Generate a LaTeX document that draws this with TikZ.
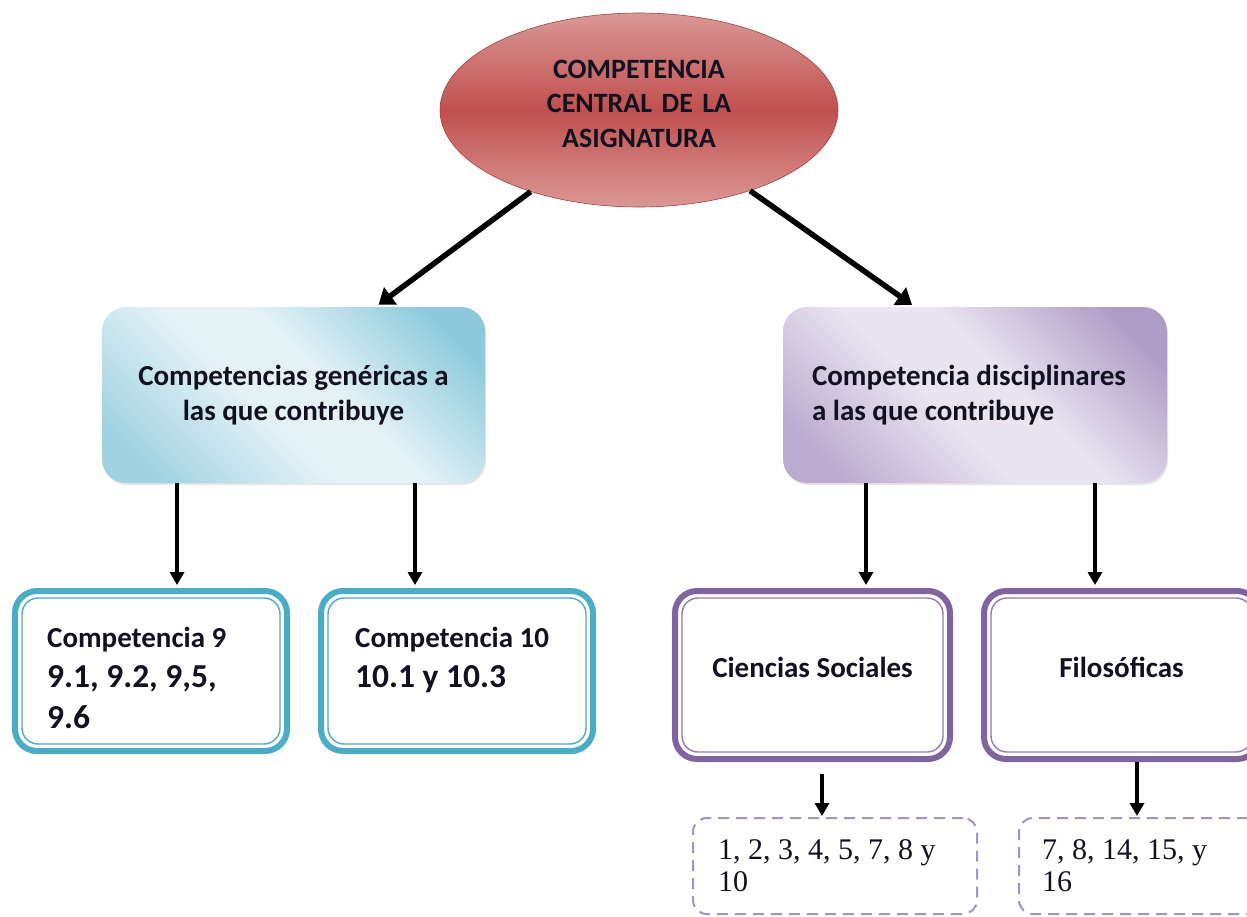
\documentclass[tikz,border=0pt]{standalone}
\usepackage{fontspec}
\setmainfont{Carlito}
\newfontfamily\timesf{Liberation Serif}
\usetikzlibrary{shapes.geometric,arrows.meta,shadows}
\definecolor{tealb}{HTML}{4BACC6}
\definecolor{purb}{HTML}{8064A2}
\definecolor{dashp}{HTML}{A493C4}
\definecolor{redm}{HTML}{C0504D}
\definecolor{redl}{HTML}{DA9896}
\definecolor{bluedk}{HTML}{8CCADB}
\definecolor{bluemd}{HTML}{9FD3E1}
\definecolor{bluelt}{HTML}{E4F2F6}
\definecolor{purdk}{HTML}{AF9DC6}
\definecolor{purmd}{HTML}{BBABD0}
\definecolor{purlt}{HTML}{E9E4F0}
\definecolor{inkc}{HTML}{111122}
\pgfdeclareverticalshading{bluesh}{100bp}{color(0bp)=(bluemd); color(22bp)=(bluemd); color(44bp)=(bluelt); color(56bp)=(bluelt); color(78bp)=(bluedk); color(100bp)=(bluedk)}
\pgfdeclareverticalshading{pursh}{100bp}{color(0bp)=(purmd); color(22bp)=(purmd); color(44bp)=(purlt); color(56bp)=(purlt); color(78bp)=(purdk); color(100bp)=(purdk)}
\begin{document}
\begin{tikzpicture}[x=1pt,y=-1pt,
  arrbig/.style={line width=5.5pt,-{Triangle[width=21pt,length=15pt]}},
  arrsm/.style={line width=3.5pt,-{Triangle[width=14pt,length=13pt]}},
  corebox/.style={ellipse, minimum width=398pt, minimum height=194pt, inner sep=0pt,
    top color=redl, bottom color=redl, middle color=redm, draw=redm!85!black, line width=0.6pt},
  genbox/.style={rectangle, rounded corners=24pt, minimum width=383pt, minimum height=176pt,
    shading=bluesh, shading angle=-45,
    drop shadow={shadow xshift=1pt, shadow yshift=-2pt, opacity=0.2}},
  disbox/.style={rectangle, rounded corners=24pt, minimum width=384pt, minimum height=176pt,
    shading=pursh, shading angle=-45,
    drop shadow={shadow xshift=1pt, shadow yshift=-2pt, opacity=0.2}},
  tealbox/.style={rectangle, rounded corners=22pt, line width=6pt, draw=tealb, fill=white,
    minimum width=272pt, minimum height=160pt},
  purbox/.style={rectangle, rounded corners=22pt, line width=6pt, draw=purb, fill=white,
    minimum width=275pt, minimum height=168pt},
  tealin/.style={draw=tealb, line width=1.4pt, rounded corners=16pt},
  purin/.style={draw=purb!85, line width=1.4pt, rounded corners=16pt},
  dashbox/.style={rectangle, rounded corners=14pt, draw=dashp, line width=2pt,
    dash pattern=on 11pt off 7pt, align=flush left},
  txt/.style={text=inkc, inner sep=0pt},
  bigtxt/.style={txt, font=\fontsize{29}{35}\selectfont\bfseries},
  numtxt/.style={txt, font=\timesf\fontsize{30}{32}\selectfont}
]
\useasboundingbox (0,0) rectangle (1247,916);
\clip (0,0) rectangle (1247,916);

% top ellipse
\node[corebox] (core) at (639,110) {};
\node[bigtxt, font=\fontsize{28}{34.5}\selectfont\bfseries, anchor=base, text width=300pt, align=center]
  (coret) at (639,78) {COMPETENCIA\\CENTRAL DE LA\\ASIGNATURA};

% second level
\node[genbox, bigtxt, align=center] (gen) at (293.5,395) {Competencias genéricas a\\las que contribuye};
\node[disbox, bigtxt, align=flush left, text width=326pt, inner xsep=29pt] (dis) at (975,395)
  {Competencia disciplinares\\a las que contribuye};

% third level (teal)
\node[tealbox] (c9) at (151,671) {};
\draw[tealin] ([shift={(10,-10)}]c9.south west) rectangle ([shift={(-10,10)}]c9.north east);
\node[txt, anchor=base west, text width=230pt, align=flush left, font=\fontsize{33.5}{40.5}\selectfont\bfseries]
  (c9t) at (47,647) {{\fontsize{29}{40.5}\selectfont Competencia 9}\\9.1, 9.2, 9,5,\\9.6};

\node[tealbox] (c10) at (457,671) {};
\draw[tealin] ([shift={(10,-10)}]c10.south west) rectangle ([shift={(-10,10)}]c10.north east);
\node[txt, anchor=base west, text width=230pt, align=flush left, font=\fontsize{33.5}{40.5}\selectfont\bfseries]
  (c10t) at (355,647) {{\fontsize{29}{40.5}\selectfont Competencia 10}\\10.1 y 10.3};

% third level (purple)
\node[purbox, bigtxt, text height=24pt, text depth=20pt] (cs) at (812.5,675) {Ciencias Sociales};
\draw[purin] ([shift={(10,-10)}]cs.south west) rectangle ([shift={(-10,10)}]cs.north east);
\node[purbox, bigtxt, text height=24pt, text depth=20pt] (fil) at (1121.5,675) {Filosóficas};
\draw[purin] ([shift={(10,-10)}]fil.south west) rectangle ([shift={(-10,10)}]fil.north east);

% dashed boxes
\node[dashbox, numtxt, text width=234pt, inner xsep=25pt, minimum height=96pt] (d1) at (835,866)
  {1, 2, 3, 4, 5, 7, 8 y\\10};
\node[dashbox, numtxt, text width=215pt, inner xsep=23pt, minimum height=96pt] (d2) at (1149.5,866)
  {7, 8, 14, 15, y\\16};

% connectors
\draw[arrbig] (core.217) -- ([shift={(85,-2)}]gen.north);
\draw[arrbig] (core.324) -- ([shift={(-63,-2)}]dis.north);
\draw[arrsm] ([shift={(-116.5,0)}]gen.south) -- ([shift={(26,-3)}]c9.north);
\draw[arrsm] ([shift={(121.5,0)}]gen.south) -- ([shift={(-42,-3)}]c10.north);
\draw[arrsm] ([shift={(-109,0)}]dis.south) -- ([shift={(53.5,-3)}]cs.north);
\draw[arrsm] ([shift={(120,0)}]dis.south) -- ([shift={(-26.5,-3)}]fil.north);
\draw[arrsm] ([shift={(9.5,12)}]cs.south) -- ([shift={(-13,-1)}]d1.north);
\draw[arrsm] ([shift={(15.5,0)}]fil.south) -- ([shift={(-12.5,-1)}]d2.north);
\end{tikzpicture}
\end{document}
